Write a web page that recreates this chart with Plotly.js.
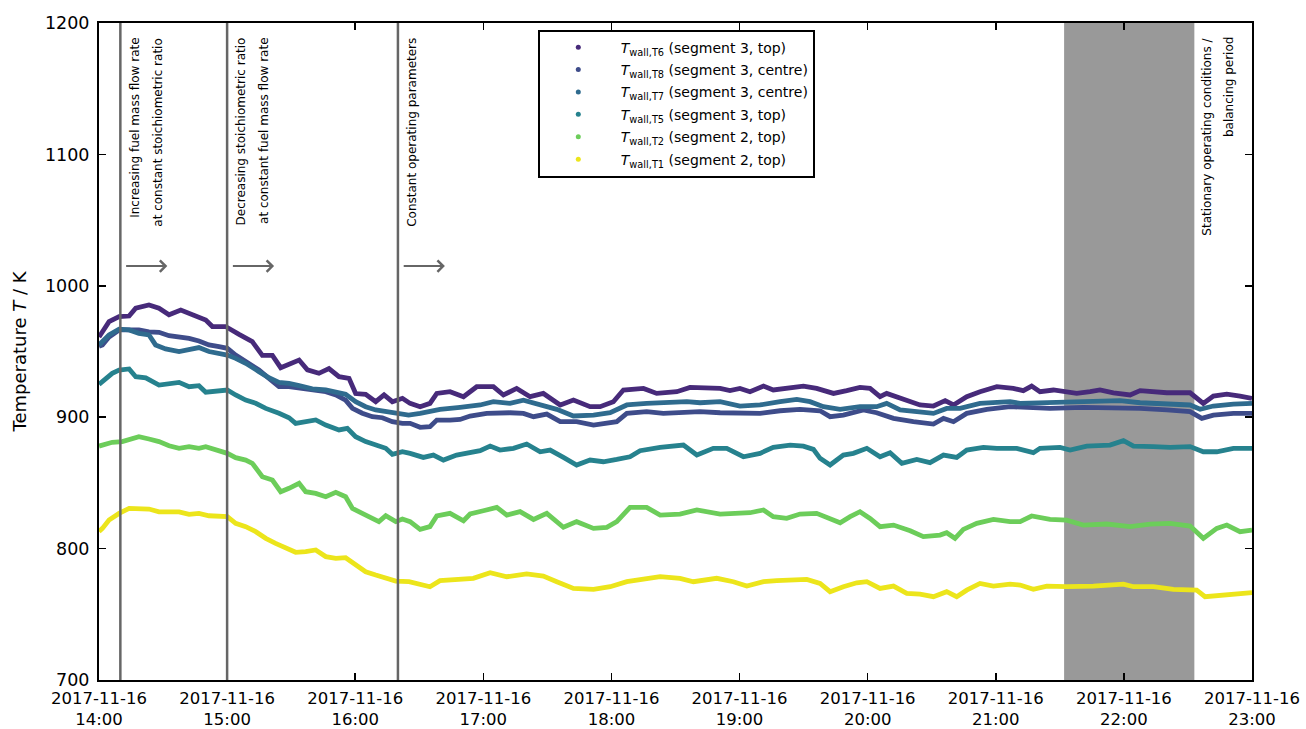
<!DOCTYPE html>
<html>
<head>
<meta charset="utf-8">
<script src="https://cdn.plot.ly/plotly-3.0.1.min.js"></script>
<style>html,body{margin:0;padding:0;background:#fff;}#chart{width:1306px;height:729px;}</style>
</head>
<body>
<div id="chart"></div>
<script>
// minutes after 2017-11-16 14:00
const t6 = [0,1.6,4.7,9.4,14.1,17.2,23.4,28.1,32.8,38.3,43.7,50,53.1,59.3,65.6,71.8,76.5,81.2,85.1,90.6,93.7,97.6,103,107.7,112.4,117.1,120.2,124.9,129.6,133.5,137.4,142.1,145.7,150.4,155,158.2,164.4,170.7,176.9,184.7,189.4,195.6,201.9,208.1,216,222.2,230,234.7,240.9,245.6,255,261.2,270.6,276.8,281.5,290.9,295.5,300.2,304.9,311.2,315.8,323.7,329.9,336.1,344,350.2,356.4,361.1,365.8,368.9,375.2,384.5,390.8,396.3,400.2,406.4,412.6,420.5,428.2,432.9,436.8,440.7,447,451.7,457.9,464.2,468.8,475.1,482.9,487.6,493.8,500.1,511,514.1,517.2,521.9,528.2,534.4,540];
const v6 = [961,965,972.7,976.5,977,983,985.4,983,978,981.6,977.8,974,969,969,963,957.5,947,947,937.7,942,943.5,936,933.4,937,930.8,929.6,918,917.4,911.8,917,911.8,914.4,910.5,908,910.5,918.1,919.4,915.6,923.2,923.2,916.9,921.9,915.6,918.1,909.3,913,908,908,911.8,920.7,921.9,918.1,919.4,922.7,922.7,921.9,920.2,921.9,919.4,923.7,920.7,921.9,923.7,921.9,918.1,920.2,922.7,921.9,915.6,918.1,914.3,909.3,908.5,912.6,909.3,915.6,919.4,923.2,921.9,920.2,923.7,919.4,920.7,919.4,918.1,919.4,920.7,918.6,916.9,920.2,919.4,918.6,918.6,914.3,910.5,916.1,917.6,916.1,914.3];

const t8 = [0,1.6,4.7,9.4,14.1,18.7,23.4,28.1,32.8,37.5,42.2,46.8,51.5,56.2,60.1,64,68.7,74.9,79.6,84.3,89,93.7,99.9,106.2,110.9,115.5,118.7,123.3,128,132.7,137.4,142.1,145.7,150.4,155,158.2,164.4,169.1,173.8,181.6,192.5,198.8,203.5,209.7,216,223.7,231.6,237.8,242.5,247.2,256.5,264.3,275.3,281.5,290.9,300.2,309.6,319,328.3,337.7,342.4,348.6,358,364.2,372.1,381.4,390.8,395.5,400.2,406.4,415.8,426.7,431.4,445.4,461,476.6,487.6,500.1,511,516.5,521.9,531.3,540];
const v8 = [954,955,961,966.4,966.4,966.4,965,964.6,962,961.3,960,958,955,953.7,952.4,947.3,942.3,936,929.6,923.2,923.2,922,920.7,919.4,917,913,906.7,903,900.4,899.6,896.6,895.3,895.3,892.3,892.8,897.8,897.8,898.3,900.9,902.9,903.4,902.9,900.4,902.4,896.6,896.6,894,895.8,896.6,902.9,904.2,902.9,904.2,904.2,903.4,902.9,902.9,904.9,906,904.9,900.4,901.6,905.5,903.4,899.1,896.6,894.8,899.1,896.6,902.9,906,908,907.5,906.7,907.5,907.5,906.7,905.5,904.2,899.1,901.6,902.9,902.9];

const t7 = [0,1.6,4.7,9.4,14.1,18.7,23.4,26.5,31.2,37.5,42.2,46.8,51.5,56.2,60.1,64,68.7,74.9,79.6,84.3,89,93.7,99.9,106.2,110.9,115.5,120.2,124.9,129.6,134.3,140.5,145,150.4,159.7,169.1,178.5,184.7,192.5,198.8,206.6,214.4,222.2,231.6,239.4,247.2,256.5,265.9,275.3,281.5,290.9,300.2,309.6,319,326.8,333,339.3,347.1,356.4,364.2,368.9,375.2,383,390.8,397,403.3,412.6,426.7,431.4,440.7,453.2,465.7,478.2,487.6,500.1,511,515.7,521.9,531.3,540];
const v7 = [955,957.5,962.6,967,966.4,963.8,962.6,955,952,949.9,951.1,953,950,948.6,947.3,944.8,941,934.7,930,926.5,925.8,924,921.5,920.7,919.4,917.4,911.8,908,905.5,904.2,903,901.6,902.9,906,907.5,909.3,911.8,910.5,913,909.3,906,900.9,901.6,903.4,909.3,910.5,911,911.8,911,911.8,908.5,909.3,911.8,913.6,911.8,908,906,908,908,910.5,905.5,904.2,902.9,906.7,906.7,910.5,911.8,910.5,911,911,911.8,912.6,911,910,909.3,906,908.5,910,910.5];

const t5 = [0,1.6,6.2,9.4,14.1,17.2,21.9,28.1,32.8,37.5,42.2,46.8,50,54.6,60.1,64,68.7,73.4,78.1,84.3,89,92.1,96.8,101.5,106.2,112.4,116.3,120.2,124.9,129.6,134.3,137.4,142.1,145.7,151.9,156.6,161.3,167.5,173.8,178.5,183.2,187.8,194.1,200.3,206.6,211.3,217.5,223.7,230,236.2,242.5,248.7,253.4,262.8,273.7,280,287.7,294,301.8,309.6,315.8,323.7,329.9,334.6,337.7,342.4,348.6,353.3,359.6,365.8,370.5,376,383,389.2,395.5,401.7,406.4,414.2,420.5,429.8,437.6,440.7,450.1,454.8,462.6,473.5,479.8,484.5,493.8,501.6,511,517.2,523.5,531.3,540];
const v5 = [925,927,933.4,935.9,936.7,930.8,930,924.5,925.8,926.5,923.2,924,919,920,920.7,916.9,913,910.6,906.7,903,899.6,895.3,896.6,897.9,894,890.3,891.5,885.2,881.4,878.8,876.3,871.7,873.8,872.5,869.4,871.2,867.4,871.2,873,874.5,878,875,876.3,879.6,873.7,875,869.4,863.6,867.4,866.1,867.9,869.9,874.5,877,878.8,871.2,876.3,876.3,869.9,872.5,877,878.8,878,875.5,868.7,863.6,871.2,872.5,876.3,869.9,873,864.9,867.9,865.4,871.2,869.4,875,877,876.3,876.3,873,876.3,877,875,878,878.8,882.1,878,877.6,877,877.6,873.7,873.7,876.3,876.3];

const t2 = [0,1.6,6.2,10.9,15.6,18.7,23.4,28.1,32.8,37.5,42.2,46.8,50,54.6,60.1,64,68.7,71.8,76.5,81.2,85.1,89,93.7,96.8,101.5,106.2,110.9,115.5,118.7,123.3,128,131.1,134.3,139,142.1,145.7,150.4,155,158.2,164.4,170.7,173.8,180,186.3,191,197.2,203.5,209.7,217.5,223.7,231.6,237.8,242.5,248.7,256.5,262.8,272.1,280,290.9,297.1,304.9,311.2,315.8,322.1,328.3,336.1,342.4,347.1,351.8,356.4,361.1,365.8,372.1,379.9,386.1,393.9,397,400.9,404.8,411.1,418.9,426.7,431.4,436.8,445.4,453.2,461,472,482.9,492.3,501.6,511,517.2,523.5,528.2,534.4,540];
const v2 = [878,878.8,880.9,881.4,883.4,885.2,883.4,881.4,878.3,876.3,877.6,876.3,877.6,875,872.5,869.2,867.4,864.9,854.7,852.2,843.3,845.9,849.7,843.3,842,839.5,842.8,839.5,830.6,826.8,823.5,820.5,825,820.5,822.5,820.5,814.6,816.7,824.8,826.8,821.2,826.3,828.8,831.4,825.5,828.1,822.2,826.8,816.2,820.5,815.4,816.2,820.5,831.4,831.4,825.5,826.3,829.4,826.3,826.8,827.3,829.4,824.3,823,826.3,826.8,823,819.7,824.3,828.1,823,816.7,817.9,813.6,809.1,810.3,812.1,807.8,814.6,819.2,822.2,820.5,820.5,824.8,822.2,821.7,817.9,818.7,816.7,818.7,819.2,817.2,807.8,815.4,817.9,812.9,814.1];

const t1 = [0,1.6,4.7,9.4,14.1,18.7,23.4,28.1,32.8,37.5,42.2,46.8,51.5,56.2,60.1,64,68.7,73.4,78.1,82.7,87.4,92.1,96.8,101.5,106.2,110.9,115.5,120.2,124.9,129.6,134.3,139,145.2,148.8,155,159.7,167.5,175.3,183.2,191,200.3,208.1,214.4,222.2,231.6,239.4,247.2,255,262.8,272.1,278.4,289.3,297.1,303.4,311.2,317.4,325.2,331.5,337.7,342.4,348.6,354.9,359.6,365.8,372.1,378.3,384.5,390.8,397,401.7,406.4,412.6,418.9,426.7,431.4,437.6,443.9,453.2,465.7,479.8,484.5,493.8,503.2,514.1,518,528.2,540];
const v1 = [813,815.4,821.8,826.8,830.6,830.1,830.1,828,828,828,826,826.8,825,825,824.3,819.2,816.7,812.9,807.8,804,800.2,797.2,797.7,799,793.9,792.6,793.1,787.5,782.4,779.9,777.4,775.3,774.8,773.5,771,775.6,776.6,777.4,781.7,778.6,780.7,779.1,774.8,769.7,769,771,774.8,776.6,778.6,777.4,774.8,777.4,774.8,771.5,774.8,775.6,776.1,776.6,773.5,767.2,771,774,774.8,769.7,771.5,765.9,765.4,763.4,767.2,763.4,768.4,773.5,771.5,773,772.3,769,771.5,771,771.5,773,771,771,769,768.4,763.4,764.7,766.5];

const seriesNames = ["T6 (segment 3, top)","T8 (segment 3, centre)","T7 (segment 3, centre)","T5 (segment 3, top)","T2 (segment 2, top)","T1 (segment 2, top)"];
const legendLabels = [
  "&nbsp;<i>T</i><sub>wall,T6</sub> (segment 3, top)",
  "&nbsp;<i>T</i><sub>wall,T8</sub> (segment 3, centre)",
  "&nbsp;<i>T</i><sub>wall,T7</sub> (segment 3, centre)",
  "&nbsp;<i>T</i><sub>wall,T5</sub> (segment 3, top)",
  "&nbsp;<i>T</i><sub>wall,T2</sub> (segment 2, top)",
  "&nbsp;<i>T</i><sub>wall,T1</sub> (segment 2, top)"
];
const colors = ["#472a7a","#3e4c8a","#2f6b8e","#26828e","#6ccd5a","#ece51b"];

const tickMinutes = [0,60,120,180,240,300,360,420,480,540];
const tickLabels = ["2017-11-16<br>14:00","2017-11-16<br>15:00","2017-11-16<br>16:00","2017-11-16<br>17:00","2017-11-16<br>18:00","2017-11-16<br>19:00","2017-11-16<br>20:00","2017-11-16<br>21:00","2017-11-16<br>22:00","2017-11-16<br>23:00"];

const phaseLines = [10, 60, 140];           // minutes
const balanceStart = 452, balanceEnd = 513; // minutes
const arrowStarts = [12, 62, 142], arrowEnds = [32, 82, 162], arrowLevel = 1015;
const phaseTexts = [
  {t: 17, text: "Increasing fuel mass flow rate"},
  {t: 27.5, text: "at constant stoichiometric ratio"},
  {t: 66.5, text: "Decreasing stoichiometric ratio"},
  {t: 77.5, text: "at constant fuel mass flow rate"},
  {t: 146.5, text: "Constant operating parameters"},
  {t: 519, text: "Stationary operating conditions /"},
  {t: 529.5, text: "balancing period"}
];

function toTime(m) {
  const ms = Date.UTC(2017, 10, 16, 14, 0, 0) + Math.round(m * 60000);
  return new Date(ms).toISOString().replace('T', ' ').slice(0, 19);
}

const ts = [t6, t8, t7, t5, t2, t1];
const vs = [v6, v8, v7, v5, v2, v1];

const traces = [];
for (let i = 0; i < 6; i++) {
  traces.push({
    type: 'scatter', mode: 'lines',
    x: ts[i].map(toTime), y: vs[i],
    name: seriesNames[i],
    line: {color: colors[i], width: 4.8},
    showlegend: false, hoverinfo: 'skip'
  });
}
for (let i = 0; i < 6; i++) {
  traces.push({
    type: 'scatter', mode: 'markers',
    x: [null], y: [null],
    name: legendLabels[i],
    legendgroup: 'g' + i,
    marker: {color: colors[i], size: 5},
    showlegend: true
  });
}

const shapes = [{
  type: 'rect', xref: 'x', yref: 'paper',
  x0: toTime(balanceStart), x1: toTime(balanceEnd), y0: 0, y1: 1,
  fillcolor: '#999999', line: {width: 0}, layer: 'below'
}];
phaseLines.forEach(m => shapes.push({
  type: 'line', xref: 'x', yref: 'paper', x0: toTime(m), x1: toTime(m), y0: 0, y1: 1,
  line: {color: '#666666', width: 2.5}, layer: 'above'
}));

const annotations = [];
for (let i = 0; i < arrowStarts.length; i++) {
  annotations.push({
    x: toTime(arrowEnds[i]), y: arrowLevel, xref: 'x', yref: 'y',
    ax: toTime(arrowStarts[i]), ay: arrowLevel, axref: 'x', ayref: 'y',
    showarrow: true, arrowhead: 4, arrowsize: 1.1, arrowwidth: 2, arrowcolor: '#666666', text: ''
  });
}
phaseTexts.forEach(p => annotations.push({
  x: toTime(p.t), y: 0.981, xref: 'x', yref: 'paper',
  text: p.text, textangle: -90, showarrow: false,
  xanchor: 'center', yanchor: 'top',
  font: {size: 12, color: '#000', family: 'DejaVu Sans'}
}));

const layout = {
  width: 1306, height: 729,
  margin: {l: 99, r: 54, t: 23, b: 49},
  paper_bgcolor: '#ffffff', plot_bgcolor: '#ffffff',
  font: {family: 'DejaVu Sans', color: '#000'},
  showlegend: true,
  legend: {
    x: 0.381, y: 0.99, xanchor: 'left', yanchor: 'top',
    bgcolor: '#ffffff', bordercolor: '#000000', borderwidth: 2,
    font: {size: 14, color: '#000'}, traceorder: 'grouped', tracegroupgap: 1.2, itemwidth: 66
  },
  xaxis: {
    type: 'date',
    range: [toTime(0), toTime(540)],
    tickmode: 'array', tickvals: tickMinutes.map(toTime), ticktext: tickLabels,
    ticks: 'inside', ticklen: 7, tickwidth: 1.5, tickcolor: '#000',
    showline: true, linewidth: 2, linecolor: '#000', mirror: 'ticks',
    showgrid: false, zeroline: false, ticklabelstandoff: 2,
    tickfont: {size: 16.5, color: '#000'}
  },
  yaxis: {
    range: [700, 1200],
    tickmode: 'linear', tick0: 700, dtick: 100,
    ticks: 'inside', ticklen: 7, tickwidth: 1.5, tickcolor: '#000',
    showline: true, linewidth: 2, linecolor: '#000', mirror: 'ticks',
    showgrid: false, zeroline: false, ticklabelstandoff: 4,
    tickfont: {size: 17.5, color: '#000'},
    title: {text: 'Temperature <i>T</i> / K', font: {size: 18, color: '#000'}, standoff: 14}
  },
  shapes: shapes,
  annotations: annotations
};

Plotly.newPlot('chart', traces, layout, {staticPlot: true, displayModeBar: false});
</script>
</body>
</html>
